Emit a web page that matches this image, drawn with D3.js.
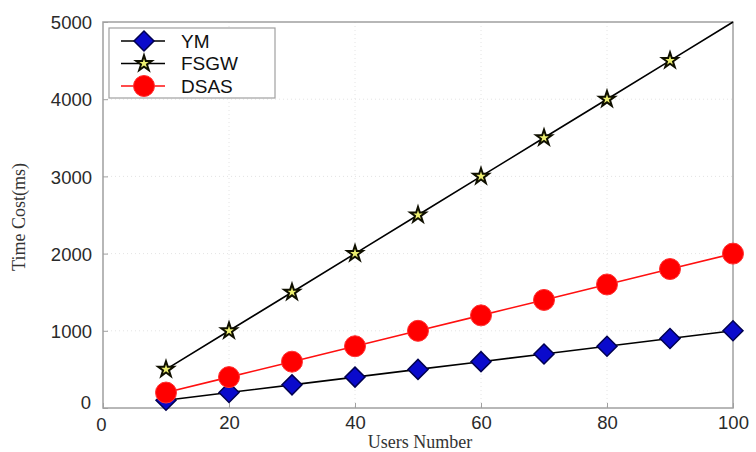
<!DOCTYPE html>
<html>
<head>
<meta charset="utf-8">
<script src="https://cdn.jsdelivr.net/npm/d3@7"></script>
<style>
  html, body { margin: 0; padding: 0; background: #fff; }
  svg { display: block; }
</style>
</head>
<body>
<svg id="chart" width="756" height="452"></svg>
<script>
// Users number on the x axis
const users = [10, 20, 30, 40, 50, 60, 70, 80, 90, 100];
// Time cost (ms) of each scheme
const ymCost   = [100, 200, 300, 400, 500, 600, 700, 800, 900, 1000];
const fsgwCost = [500, 1000, 1500, 2000, 2500, 3000, 3500, 4000, 4500, 5000];
const dsasCost = [200, 400, 600, 800, 1000, 1200, 1400, 1600, 1800, 2000];
const seriesNames = ["YM", "FSGW", "DSAS"];
const xTicks = [0, 20, 40, 60, 80, 100];
const yTicks = [0, 1000, 2000, 3000, 4000, 5000];

const svg = d3.select("#chart");
const m = { left: 103, right: 733, top: 22, bottom: 408 };

const x = d3.scaleLinear().domain([0, 100]).range([m.left, m.right]);
const y = d3.scaleLinear().domain([0, 5000]).range([m.bottom, m.top]);

// grid
const grid = svg.append("g").attr("stroke", "#e4e4e4").attr("stroke-width", 1).attr("stroke-dasharray", "1,3");
xTicks.slice(1, -1).forEach(t => grid.append("line")
  .attr("x1", x(t)).attr("x2", x(t)).attr("y1", m.top).attr("y2", m.bottom));
yTicks.slice(1, -1).forEach(t => grid.append("line")
  .attr("x1", m.left).attr("x2", m.right).attr("y1", y(t)).attr("y2", y(t)));

// frame
svg.append("rect")
  .attr("x", m.left).attr("y", m.top)
  .attr("width", m.right - m.left).attr("height", m.bottom - m.top)
  .attr("fill", "none").attr("stroke", "#a0a0a0").attr("stroke-width", 1.5);

// axes with inward ticks
const fontSans = "Arial, 'Liberation Sans', sans-serif";
const xAxis = svg.append("g").attr("transform", `translate(0,${m.bottom})`)
  .call(d3.axisBottom(x).tickValues(xTicks).tickSize(-5).tickPadding(6).tickFormat(d3.format("d")));
const yAxis = svg.append("g").attr("transform", `translate(${m.left},0)`)
  .call(d3.axisLeft(y).tickValues(yTicks).tickSize(-5).tickPadding(11).tickFormat(d3.format("d")));
[xAxis, yAxis].forEach(a => {
  a.select(".domain").remove();
  a.selectAll(".tick line").attr("stroke", "#a0a0a0");
  a.selectAll(".tick text").attr("font-family", fontSans).attr("font-size", 18.5).attr("fill", "#2a2a2a");
});
xAxis.selectAll(".tick text").attr("dy", "0.8em");
yAxis.selectAll(".tick text").attr("dy", "0.36em");
// shift the two zeros apart at the corner
xAxis.selectAll(".tick").filter(d => d === 0).select("text").attr("dx", -2).attr("dy", "0.9em");
yAxis.selectAll(".tick").filter(d => d === 0).select("text").attr("dx", -1).attr("dy", "0.05em");

// axis titles
const fontSerif = "'Liberation Serif', 'Times New Roman', serif";
svg.append("text")
  .attr("x", (m.left + m.right) / 2 + 2).attr("y", 448)
  .attr("text-anchor", "middle")
  .attr("font-family", fontSerif).attr("font-size", 18).attr("fill", "#333")
  .text("Users Number");
svg.append("text")
  .attr("transform", `translate(25,${(m.top + m.bottom) / 2 + 2}) rotate(-90)`)
  .attr("text-anchor", "middle")
  .attr("font-family", fontSerif).attr("font-size", 18).attr("fill", "#333")
  .text("Time Cost(ms)");

// marker symbols
const star = d3.symbol().type(d3.symbolStar).size(75)();

const series = [
  { name: seriesNames[0], values: ymCost, line: "#000", shape: "diamond", fill: "#0a0acc", stroke: "#000050" },
  { name: seriesNames[1], values: fsgwCost, line: "#000", shape: "star", fill: "#eef070", stroke: "#101000" },
  { name: seriesNames[2], values: dsasCost, line: "#ff1010", shape: "circle", fill: "#ff0000", stroke: "#ff3030" }
];

function drawMarker(g, s) {
  if (s.shape === "circle") {
    g.append("circle").attr("r", 10.5).attr("fill", s.fill).attr("stroke", s.stroke).attr("stroke-width", 1);
  } else if (s.shape === "diamond") {
    g.append("path").attr("d", d3.symbol().type(d3.symbolSquare).size(200)())
      .attr("transform", "rotate(45)")
      .attr("fill", s.fill).attr("stroke", s.stroke).attr("stroke-width", 1.5);
  } else {
    g.append("path").attr("d", star)
      .attr("fill", s.fill).attr("stroke", s.stroke).attr("stroke-width", 2);
  }
}

const line = d3.line().x(d => x(d[0])).y(d => y(d[1]));
series.forEach(s => {
  const pts = users.map((u, i) => [u, s.values[i]]);
  svg.append("path").datum(pts).attr("d", line)
    .attr("fill", "none").attr("stroke", s.line).attr("stroke-width", 1.6);
  // the FSGW star at the top corner sits on the frame edge and is left off
  const marked = s.shape === "star" ? pts.filter(p => p[1] < 5000) : pts;
  marked.forEach(p => {
    const g = svg.append("g").attr("transform", `translate(${x(p[0])},${y(p[1])})`);
    drawMarker(g, s);
  });
});

// legend
const lg = svg.append("g");
lg.append("rect").attr("x", 109).attr("y", 28).attr("width", 166).attr("height", 70)
  .attr("fill", "#fff").attr("stroke", "#a0a0a0").attr("stroke-width", 1.2);
series.forEach((s, i) => {
  const cy = 41 + i * 22.5;
  lg.append("line").attr("x1", 121).attr("x2", 165).attr("y1", cy).attr("y2", cy)
    .attr("stroke", s.line).attr("stroke-width", 1.6);
  const g = lg.append("g").attr("transform", `translate(144,${cy})`);
  drawMarker(g, s);
  lg.append("text").attr("x", 181).attr("y", cy).attr("dy", "0.36em")
    .attr("font-family", fontSans).attr("font-size", 19).attr("fill", "#111")
    .text(s.name);
});
</script>
</body>
</html>
